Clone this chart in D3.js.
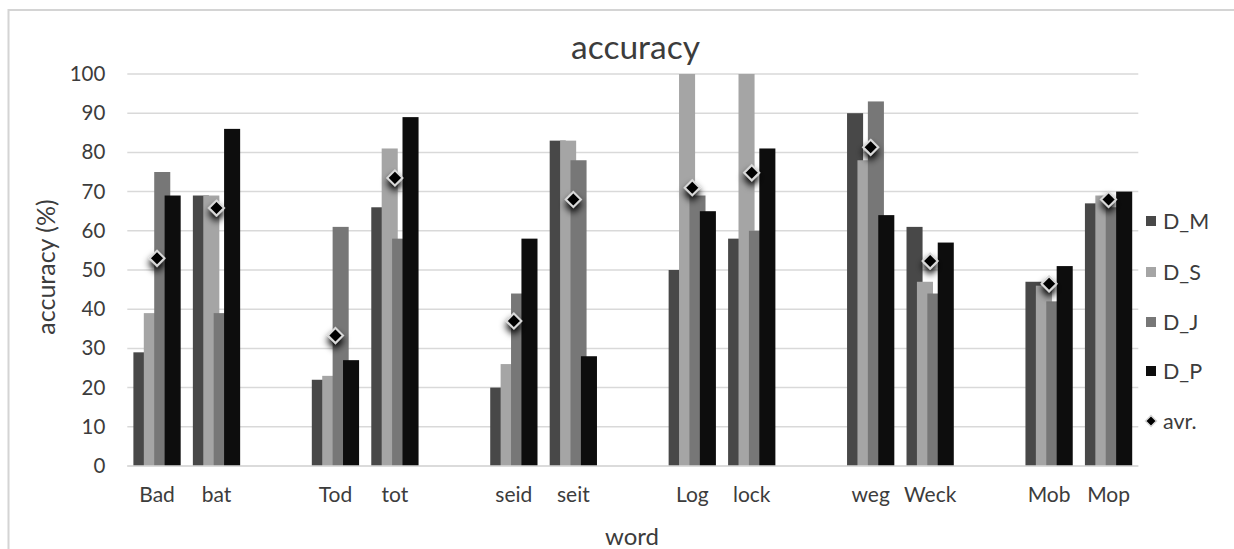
<!DOCTYPE html>
<html>
<head>
<meta charset="utf-8">
<script src="https://cdn.jsdelivr.net/npm/d3@7/dist/d3.min.js"></script>
<style>
  html, body { margin: 0; padding: 0; background: #ffffff; }
  svg { display: block; }
  text { font-family: Lato, "Open Sans", sans-serif; fill: #3c3c3c; }
</style>
</head>
<body>
<svg id="chart" width="1234" height="549"></svg>
<script>
// Word pairs, with empty slots separating the pairs on the x axis
const categories = ["Bad", "bat", "", "Tod", "tot", "", "seid", "seit", "", "Log", "lock", "", "weg", "Weck", "", "Mob", "Mop"];

// Accuracy (%) per speaker group
const D_M = [29, 69, null, 22, 66, null, 20, 83, null, 50, 58, null, 90, 61, null, 47, 67];
const D_S = [39, 69, null, 23, 81, null, 26, 83, null, 100, 100, null, 78, 47, null, 46, 69];
const D_J = [75, 39, null, 61, 58, null, 44, 78, null, 69, 60, null, 93, 44, null, 42, 66];
const D_P = [69, 86, null, 27, 89, null, 58, 28, null, 65, 81, null, 64, 57, null, 51, 70];
// Average accuracy per word
const avr = [53, 65.8, null, 33.3, 73.5, null, 37, 68, null, 71, 74.8, null, 81.3, 52.3, null, 46.5, 68];

const yTicks = [0, 10, 20, 30, 40, 50, 60, 70, 80, 90, 100];

const seriesNames = ["D_M", "D_S", "D_J", "D_P"];
const seriesValues = [D_M, D_S, D_J, D_P];
const seriesColors = ["#484848", "#a5a5a5", "#777777", "#0d0d0d"];

const svg = d3.select("#chart");

// outer chart frame
svg.append("rect")
  .attr("x", 8.5).attr("y", 10)
  .attr("width", 1400).attr("height", 700)
  .attr("fill", "none")
  .attr("stroke", "#d4d4d4")
  .attr("stroke-width", 2);

const plot = { left: 127.3, right: 1138.3, top: 74, bottom: 466 };

const x = d3.scaleBand()
  .domain(d3.range(categories.length))
  .range([plot.left, plot.right])
  .paddingInner(0)
  .paddingOuter(0);

const y = d3.scaleLinear()
  .domain([0, 100])
  .range([plot.bottom, plot.top]);

// gridlines
svg.append("g")
  .selectAll("line")
  .data(yTicks)
  .join("line")
  .attr("x1", plot.left).attr("x2", plot.right)
  .attr("y1", d => y(d)).attr("y2", d => y(d))
  .attr("stroke", "#d9d9d9")
  .attr("stroke-width", 1.5);

// y axis labels
const yAxis = d3.axisLeft(y).tickValues(yTicks).tickSize(0).tickPadding(0);
const gy = svg.append("g")
  .attr("transform", `translate(${plot.left - 22},0)`)
  .call(yAxis);
gy.select(".domain").remove();
gy.selectAll("text")
  .attr("font-size", 20.5)
  .attr("font-family", "Lato, 'Open Sans', sans-serif")
  .attr("fill", "#3c3c3c");

// x axis labels
const xAxis = d3.axisBottom(x).tickSize(0).tickPadding(0).tickFormat(i => categories[i]);
const gx = svg.append("g")
  .attr("transform", `translate(0,${plot.bottom + 21})`)
  .call(xAxis);
gx.select(".domain").remove();
gx.selectAll("text")
  .attr("font-size", 21)
  .attr("font-family", "Lato, 'Open Sans', sans-serif")
  .attr("fill", "#3c3c3c");

// overlapping clustered bars: each series shifted by a fixed step, later series on top
const bw = x.bandwidth();
const barW = bw * 0.27;
const step = bw * 0.175;
const groupW = barW + step * 3;

seriesValues.forEach((vals, s) => {
  svg.append("g")
    .selectAll("rect")
    .data(vals.map((v, i) => ({ v, i })).filter(d => d.v !== null))
    .join("rect")
    .attr("x", d => x(d.i) + (bw - groupW) / 2 + s * step)
    .attr("y", d => y(d.v))
    .attr("width", barW)
    .attr("height", d => y(0) - y(d.v))
    .attr("fill", seriesColors[s]);
});

// drop shadow for the average markers
const defs = svg.append("defs");
const f = defs.append("filter").attr("id", "shadow")
  .attr("x", "-100%").attr("y", "-100%").attr("width", "300%").attr("height", "300%");
f.append("feDropShadow")
  .attr("dx", 0).attr("dy", 5)
  .attr("stdDeviation", 3.5)
  .attr("flood-color", "#000000")
  .attr("flood-opacity", 1);

const diamond = r => `M0,${-r}L${r},0L0,${r}L${-r},0Z`;

svg.append("g")
  .selectAll("path")
  .data(avr.map((v, i) => ({ v, i })).filter(d => d.v !== null))
  .join("path")
  .attr("transform", d => `translate(${x(d.i) + bw / 2},${y(d.v)})`)
  .attr("d", diamond(7.5))
  .attr("fill", "#000000")
  .attr("stroke", "#d9d9d9")
  .attr("stroke-width", 2)
  .attr("filter", "url(#shadow)");

// x axis baseline
svg.append("line")
  .attr("x1", plot.left).attr("x2", plot.right)
  .attr("y1", y(0)).attr("y2", y(0))
  .attr("stroke", "#d9d9d9")
  .attr("stroke-width", 1.5);

// title
svg.append("text")
  .attr("x", 635.5).attr("y", 59)
  .attr("text-anchor", "middle")
  .attr("font-size", 33.5)
  .text("accuracy");

// axis titles
svg.append("text")
  .attr("x", 632).attr("y", 545)
  .attr("text-anchor", "middle")
  .attr("font-size", 24)
  .text("word");

svg.append("text")
  .attr("transform", "translate(55,267) rotate(-90)")
  .attr("text-anchor", "middle")
  .attr("font-size", 25)
  .text("accuracy (%)");

// legend
const legendY = [221, 272, 322, 371, 421];
const legend = svg.append("g");
seriesNames.forEach((name, s) => {
  legend.append("rect")
    .attr("x", 1146).attr("y", legendY[s] - 5)
    .attr("width", 10).attr("height", 10)
    .attr("fill", seriesColors[s]);
  legend.append("text")
    .attr("x", 1163).attr("y", legendY[s])
    .attr("dy", "0.35em")
    .attr("font-size", 21.5)
    .text(name);
});
legend.append("path")
  .attr("transform", `translate(1151,${legendY[4]})`)
  .attr("d", diamond(5.5))
  .attr("fill", "#000000")
  .attr("stroke", "#d9d9d9")
  .attr("stroke-width", 1.5);
legend.append("text")
  .attr("x", 1163).attr("y", legendY[4])
  .attr("dy", "0.35em")
  .attr("font-size", 21.5)
  .text("avr.");
</script>
</body>
</html>
